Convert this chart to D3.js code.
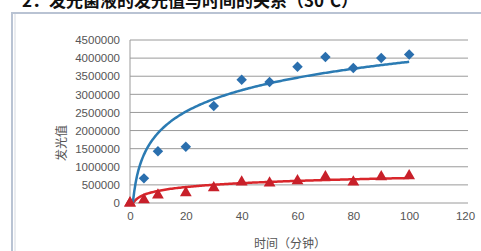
<!DOCTYPE html>
<html><head><meta charset="utf-8">
<script src="https://d3js.org/d3.v7.min.js"></script>
<style>body{margin:0;background:#fff;}svg{display:block;}</style>
</head><body>
<script>
const times = [0, 5, 10, 20, 30, 40, 50, 60, 70, 80, 90, 100];
const blueValues = [0, 680000, 1430000, 1550000, 2680000, 3400000, 3340000, 3760000, 4030000, 3730000, 4000000, 4100000];
const redValues = [0, 90000, 220000, 280000, 420000, 580000, 550000, 610000, 720000, 580000, 720000, 750000];
const blueTrend = {a: 855000, b: -40000};   // logarithmic trend y = a*ln(x)+b
const redTrend = {a: 155000, b: -24000};
const yTicks = [0, 500000, 1000000, 1500000, 2000000, 2500000, 3000000, 3500000, 4000000, 4500000];
const xTicks = [0, 20, 40, 60, 80, 100, 120];
const yTitle = "发光值";
const xTitle = "时间（分钟）";
const pageTitle = "2．发光菌液的发光值与时间的关系（30℃）";

const W = 481, H = 251;
const svg = d3.select("body").append("svg").attr("width", W).attr("height", H);

// clipped page title above chart
svg.append("text").attr("x", 22).attr("y", 7).attr("font-family", "Noto Sans CJK SC, sans-serif")
  .attr("font-size", 17).attr("font-weight", "bold").attr("fill", "#111").text(pageTitle);

// chart frame
svg.append("rect").attr("x", 12).attr("y", 13).attr("width", 480).attr("height", 260)
  .attr("fill", "#fff").attr("stroke", "#b9c3d3").attr("stroke-width", 2);
svg.append("line").attr("x1", 15).attr("x2", 15).attr("y1", 14).attr("y2", 251).attr("stroke", "#d5d9e0");

const x = d3.scaleLinear().domain([0, 120]).range([130, 465]);
const y = d3.scaleLinear().domain([0, 4500000]).range([203, 40]);

// grid
svg.append("g").selectAll("line").data(yTicks).join("line")
  .attr("x1", x(0)).attr("x2", 468).attr("y1", d => y(d)).attr("y2", d => y(d))
  .attr("stroke", "#9a9a9a").attr("stroke-width", 1);
svg.append("line").attr("x1", x(0)).attr("x2", x(0)).attr("y1", y(4500000)).attr("y2", y(0)).attr("stroke", "#9a9a9a");

// axes labels
const yAxis = d3.axisLeft(y).tickValues(yTicks).tickSize(0).tickPadding(10).tickFormat(d3.format("d"));
const gy = svg.append("g").attr("transform", `translate(${x(0)},0)`).call(yAxis);
gy.select(".domain").remove();
gy.selectAll("text").attr("font-family", "Liberation Sans, Arial, sans-serif").attr("font-size", 11.5).attr("fill", "#555");

const xAxis = d3.axisBottom(x).tickValues(xTicks).tickSize(0).tickPadding(9);
const gx = svg.append("g").attr("transform", `translate(0,${y(0)})`).call(xAxis);
gx.select(".domain").remove();
gx.selectAll("text").attr("font-family", "Liberation Sans, Arial, sans-serif").attr("font-size", 11.5).attr("fill", "#555");

svg.append("text").attr("transform", "translate(66,143) rotate(-90)").attr("text-anchor", "middle")
  .attr("font-family", "Noto Sans CJK SC, sans-serif").attr("font-size", 12).attr("fill", "#555").text(yTitle);
svg.append("text").attr("x", 290).attr("y", 248).attr("text-anchor", "middle")
  .attr("font-family", "Noto Sans CJK SC, sans-serif").attr("font-size", 12).attr("fill", "#555").text(xTitle);

// trend lines
function trendPts(t) {
  const pts = [];
  for (let v = 1; v <= 100; v += 0.5) pts.push([v, t.a * Math.log(v) + t.b]);
  return pts;
}
const line = d3.line().x(d => x(d[0])).y(d => y(Math.max(0, d[1])));
svg.append("path").attr("d", line(trendPts(redTrend))).attr("fill", "none").attr("stroke", "#d9262b").attr("stroke-width", 2.5);

// red triangles
svg.append("g").selectAll("path").data(times.map((t, i) => [t, redValues[i]])).join("path")
  .attr("d", d3.symbol(d3.symbolTriangle, 60))
  .attr("transform", d => `translate(${x(d[0])},${y(d[1])})`).attr("fill", "#c8202a");

svg.append("path").attr("d", line(trendPts(blueTrend))).attr("fill", "none").attr("stroke", "#2b7bb3").attr("stroke-width", 2.5);

// blue diamonds
svg.append("g").selectAll("path").data(times.map((t, i) => [t, blueValues[i]])).filter ? null : null;
svg.append("g").selectAll("path").data(times.map((t, i) => [t, blueValues[i]]).filter(d => d[0] > 0)).join("path")
  .attr("d", d3.symbol(d3.symbolDiamond2 || d3.symbolSquare, 70))
  .attr("transform", d => `translate(${x(d[0])},${y(d[1])}) rotate(${d3.symbolDiamond2 ? 0 : 45})`).attr("fill", "#2a6fae");
// red marker at origin on top
svg.append("path").attr("d", d3.symbol(d3.symbolTriangle, 60)).attr("transform", `translate(${x(times[0])},${y(redValues[0])})`).attr("fill", "#c8202a");
</script>
</body></html>
